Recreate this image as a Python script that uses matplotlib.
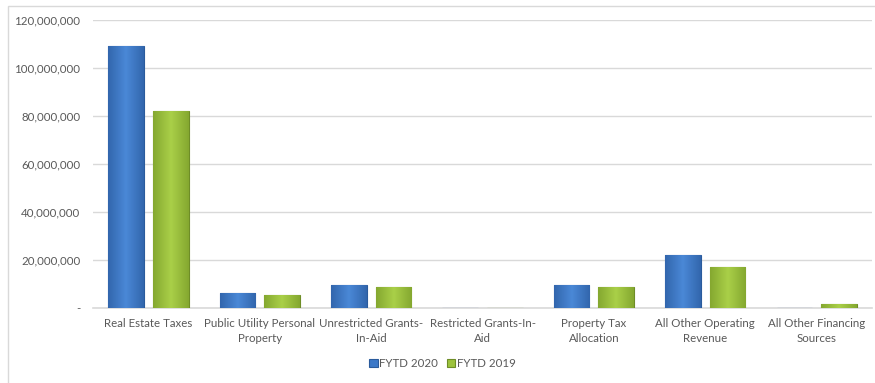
import numpy as np
import matplotlib
matplotlib.use("Agg")
import matplotlib.pyplot as plt
from matplotlib.colors import LinearSegmentedColormap
from matplotlib.patches import Rectangle
from matplotlib.ticker import FuncFormatter

categories = [
    "Real Estate Taxes",
    "Public Utility Personal\nProperty",
    "Unrestricted Grants-\nIn-Aid",
    "Restricted Grants-In-\nAid",
    "Property Tax\nAllocation",
    "All Other Operating\nRevenue",
    "All Other Financing\nSources",
]
fytd_2020 = [109_200_000, 6_200_000, 9_600_000, 150_000, 9_500_000, 22_000_000, 100_000]
fytd_2019 = [82_000_000, 5_400_000, 8_800_000, 120_000, 8_800_000, 17_000_000, 1_700_000]

BLUE = "#3b78c8"
BLUE_EDGE = "#2a5b9c"
GREEN = "#9dc33d"
GREEN_EDGE = "#6e8d27"
TEXT = "#595959"

plt.rcParams["font.family"] = ["Lato", "DejaVu Sans"]

fig = plt.figure(figsize=(8.75, 3.83), dpi=100)
ax = fig.add_axes([0.106, 0.196, 0.891, 0.752])

x = np.arange(len(categories))
w = 0.32
gap = 0.04
bars_b = ax.bar(x - w / 2 - gap, fytd_2020, width=w, color=BLUE, edgecolor=BLUE_EDGE,
                linewidth=0.8, label="FYTD 2020", zorder=3)
bars_g = ax.bar(x + w / 2 + gap, fytd_2019, width=w, color=GREEN, edgecolor=GREEN_EDGE,
                linewidth=0.8, label="FYTD 2019", zorder=3)

# soft horizontal shading like the Excel bevel
grad = np.concatenate([np.linspace(0, 1, 50), np.linspace(1, 0, 50)])[None, :]
cmaps = {
    "b": LinearSegmentedColormap.from_list("b", ["#3266ad", "#4a88d6"]),
    "g": LinearSegmentedColormap.from_list("g", ["#85a830", "#a9cf48"]),
}
for bars, key in [(bars_b, "b"), (bars_g, "g")]:
    for p in bars:
        x0, y0 = p.get_x(), p.get_y()
        im = ax.imshow(grad, cmap=cmaps[key], aspect="auto", zorder=3.5,
                       extent=[x0, x0 + p.get_width(), y0, y0 + p.get_height()])
        im.set_clip_path(p)

ax.set_xlim(-0.5, len(categories) - 0.5)
ax.set_ylim(0, 120_000_000)
ax.set_yticks(np.arange(0, 120_000_001, 20_000_000))
ax.yaxis.set_major_formatter(FuncFormatter(lambda v, p: "-" if v == 0 else f"{v:,.0f}"))
ax.set_xticks(x)
ax.set_xticklabels(categories)
ax.tick_params(axis="both", length=0, colors=TEXT, labelsize=8.3)
ax.tick_params(axis="y", pad=9)
ax.tick_params(axis="x", pad=7)
for lab in ax.get_xticklabels():
    lab.set_linespacing(1.45)

ax.grid(axis="y", color="#d9d9d9", linewidth=1, zorder=0)
for s in ["top", "right", "left"]:
    ax.spines[s].set_visible(False)
ax.spines["bottom"].set_color("#d9d9d9")
ax.spines["bottom"].set_linewidth(1.2)

leg = fig.legend(loc="center", bbox_to_anchor=(0.506, 0.052), ncol=2, frameon=False,
                 fontsize=8.3, handlelength=0.7, handleheight=0.7, handletextpad=0.15,
                 columnspacing=0.8)
for t in leg.get_texts():
    t.set_color(TEXT)

fig.patches.append(Rectangle((8 / 875, -0.01), 1.0, 1 - 6 / 383 + 0.01,
                             transform=fig.transFigure, fill=False,
                             edgecolor="#d9d9d9", linewidth=1))

fig.savefig("out.png", dpi=100)
